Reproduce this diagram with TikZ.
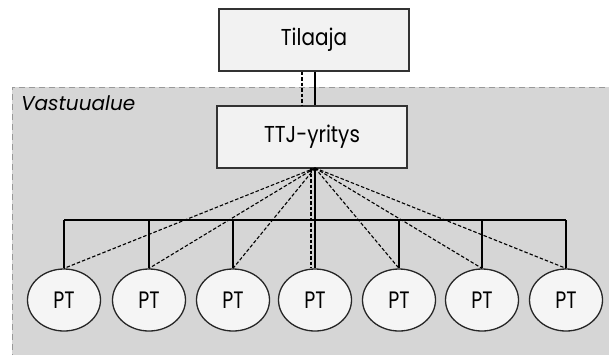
\documentclass[tikz,border=0pt]{standalone}
\usepackage{fontspec}
\usetikzlibrary{shapes.geometric}
\setmainfont{Poppins}
\newcommand\tallbox[2]{\scalebox{1}[#1]{#2}}
\begin{document}
\begin{tikzpicture}[x=1pt,y=-1pt,
  boxnode/.style={draw=black!80,line width=1.1pt,fill=black!5,minimum width=190pt,minimum height=62pt,inner sep=0pt,font=\fontsize{20}{22}\selectfont},
  ptnode/.style={ellipse,draw=black!85,line width=1.3pt,fill=black!4,minimum width=73pt,minimum height=62pt,inner sep=0pt,font=\fontsize{19}{20}\selectfont},
  solidline/.style={line width=2.2pt,black},
  dashline/.style={line width=1.1pt,dash pattern=on 3.5pt off 2pt,black}]
\useasboundingbox (0,0) rectangle (609,354);
\fill[black!16] (12,87) rectangle (615,360);
\draw[black!40,line width=0.8pt,dash pattern=on 6pt off 4pt] (12,360) -- (12,87) -- (615,87);
\node[font=\fontsize{20}{22}\selectfont\itshape,anchor=base west,inner sep=0pt] (va) at (21,110) {Vastuualue};
\node[boxnode] (til) at (314,40) {\tallbox{1.15}{Tilaaja}};
\node[boxnode] (ttj) at (312,137) {\tallbox{1.15}{TTJ-yritys}};
\foreach \i/\x in {1/64,2/149,3/233,4/315,5/399,6/482,7/566}{
  \node[ptnode] (pt\i) at (\x,300) {\tallbox{1.25}{PT}};
}
\coordinate (tb) at (315,168);
\coordinate (busL) at (64,220);
\coordinate (busR) at (566,220);
\draw[solidline] (til.south -| tb) -- (ttj.north -| tb);
\draw[dashline] ([xshift=-13pt]til.south -| tb) -- ([xshift=-13pt]ttj.north -| tb);
\draw[solidline] (tb) -- (pt4.north);
\draw[solidline] (busL) -- (busR);
\foreach \i in {1,2,3,5,6,7}{
  \draw[solidline] (busL -| pt\i.north) -- (pt\i.north);
}
\foreach \i in {1,2,3,5,6,7}{
  \draw[dashline] (tb) -- (pt\i.north);
}
\draw[dashline] ([xshift=-4pt]tb) -- ([xshift=-4pt]pt4.north);
\end{tikzpicture}
\end{document}
